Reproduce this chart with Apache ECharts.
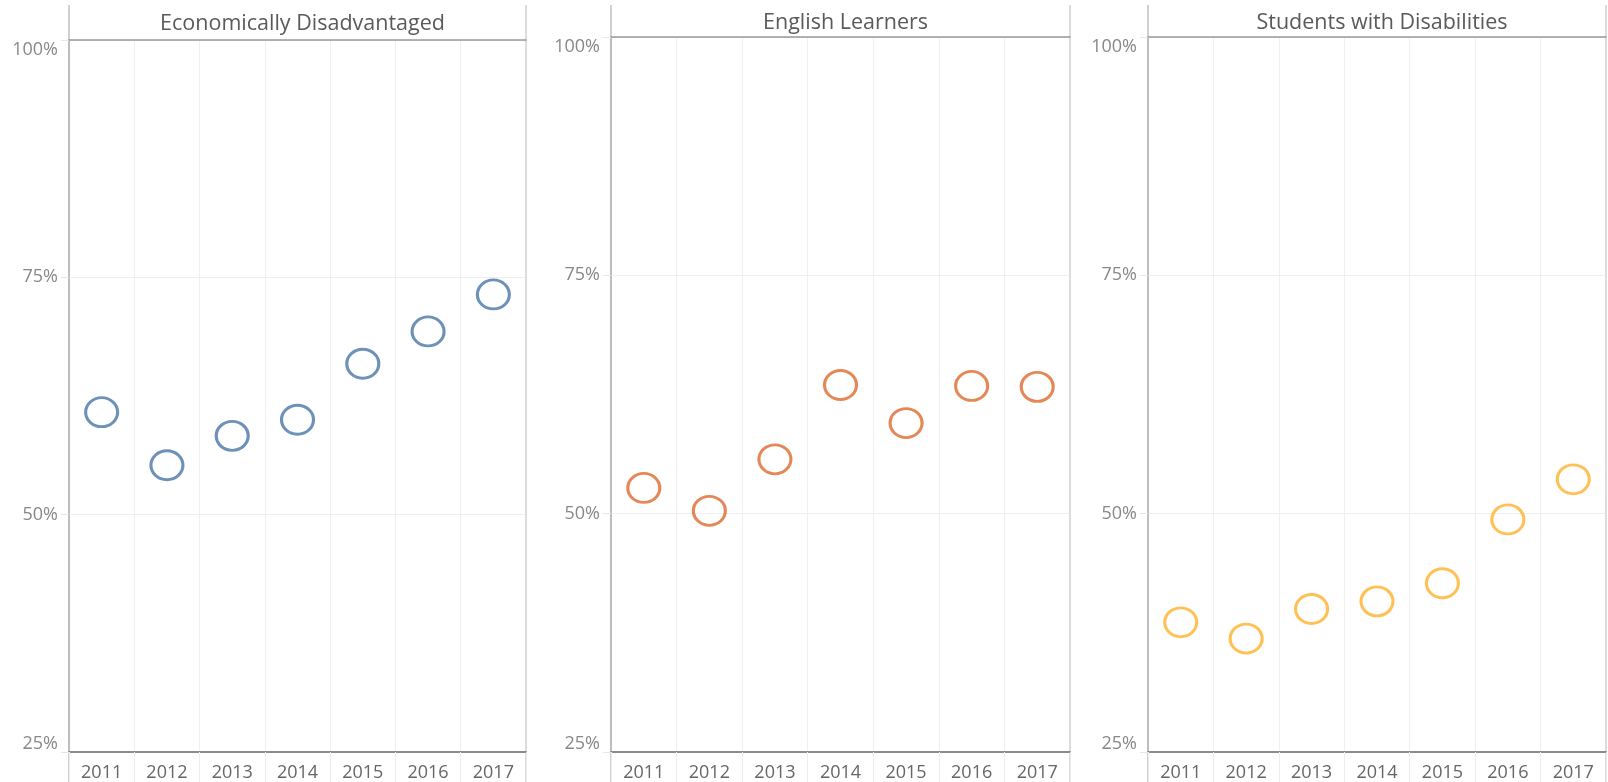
<!DOCTYPE html>
<html>
<head>
<meta charset="utf-8">
<script src="https://cdn.jsdelivr.net/npm/echarts@6/dist/echarts.min.js"></script>
<style>
html,body{margin:0;padding:0;background:#fff;}
#chart{width:1608px;height:782px;}
</style>
</head>
<body>
<div id="chart"></div>
<script>
const years = ['2011','2012','2013','2014','2015','2016','2017'];
const panelTitles = ['Economically Disadvantaged','English Learners','Students with Disabilities'];
const econDisadvantaged = [60.8, 55.2, 58.3, 60.0, 65.9, 69.3, 73.2];
const englishLearners = [52.7, 50.3, 55.7, 63.5, 59.5, 63.4, 63.3];
const studentsWithDisabilities = [38.6, 36.9, 40.0, 40.8, 42.7, 49.4, 53.6];
const yTicks = [25, 50, 75, 100];

const seriesValues = [econDisadvantaged, englishLearners, studentsWithDisabilities];
const colors = ['#4a75a8', '#df6a2e', '#ffb22c'];

// layout (pixels)
const grids = [
  {left: 69, top: 40, width: 457, height: 712},
  {left: 611, top: 37, width: 459, height: 715},
  {left: 1148, top: 37, width: 458, height: 715}
];
const headerTop = 5;
const FONT = 'Open Sans';
const TICK_FS = 18;

const option = {
  animation: false,
  backgroundColor: '#fff',
  title: grids.map((g, i) => ({
    text: panelTitles[i],
    left: g.left + g.width / 2,
    top: i === 0 ? 6 : 5,
    textAlign: 'center',
    textStyle: {fontFamily: FONT, fontSize: 21.5, fontWeight: 'normal', color: '#5a5a5a', lineHeight: 26}
  })),
  grid: grids.map(g => ({left: g.left, top: g.top, width: g.width, height: g.height, containLabel: false})),
  xAxis: [].concat(...grids.map((g, i) => [
    {
      type: 'category', gridIndex: i, data: years, position: 'bottom',
      boundaryGap: true,
      axisLine: {show: true, lineStyle: {color: '#8c8c8c', width: 2}},
      axisTick: {show: true, length: 30, lineStyle: {color: '#ececec', width: 1}},
      axisLabel: {fontFamily: FONT, fontSize: TICK_FS, color: '#666', margin: 12},
      splitLine: {show: true, lineStyle: {color: '#efefef', width: 1}}
    },
    {
      type: 'category', gridIndex: i, data: years, position: 'top',
      axisLine: {show: true, lineStyle: {color: '#999', width: 1.5}},
      axisTick: {show: false}, axisLabel: {show: false}, splitLine: {show: false}
    }
  ])),
  yAxis: [].concat(...grids.map((g, i) => [
    {
      type: 'value', gridIndex: i, min: 25, max: 100, interval: 25, position: 'left',
      axisLine: {show: true, lineStyle: {color: '#bdbdbd', width: 2}},
      axisTick: {show: true, length: 8, lineStyle: {color: '#e6e6e6'}},
      splitLine: {show: true, lineStyle: {color: '#efefef', width: 1}},
      axisLabel: {
        fontFamily: FONT, fontSize: TICK_FS, color: '#888', margin: 11,
        formatter: v => v === 100 ? '{t|' + v + '%}' : (v === 25 ? '{b|' + v + '%}' : v + '%'),
        rich: {
          t: {fontFamily: FONT, fontSize: TICK_FS, color: '#888', padding: [20, 0, 0, 0]},
          b: {fontFamily: FONT, fontSize: TICK_FS, color: '#888', padding: [0, 0, 16, 0]}
        }
      }
    },
    {
      type: 'value', gridIndex: i, min: 25, max: 100, interval: 25, position: 'right',
      axisLine: {show: true, lineStyle: {color: '#dcdcdc', width: 2}},
      axisTick: {show: false}, axisLabel: {show: false}, splitLine: {show: false}
    }
  ])),
  series: seriesValues.map((vals, i) => ({
    type: 'scatter',
    xAxisIndex: i * 2, yAxisIndex: i * 2,
    data: vals,
    symbol: 'circle',
    symbolSize: [32, 29],
    itemStyle: {color: 'rgba(255,255,255,0)', borderColor: colors[i], borderWidth: 3}
  })),
  graphic: [].concat(...grids.map(g => [
    {type: 'line', silent: true, shape: {x1: g.left, y1: headerTop, x2: g.left, y2: g.top}, style: {stroke: '#d0d0d0', lineWidth: 2}},
    {type: 'line', silent: true, shape: {x1: g.left + g.width, y1: headerTop, x2: g.left + g.width, y2: g.top}, style: {stroke: '#dcdcdc', lineWidth: 2}},
    {type: 'line', silent: true, shape: {x1: g.left, y1: g.top + g.height, x2: g.left, y2: 782}, style: {stroke: '#d0d0d0', lineWidth: 2}},
    {type: 'line', silent: true, shape: {x1: g.left + g.width, y1: g.top + g.height, x2: g.left + g.width, y2: 782}, style: {stroke: '#dcdcdc', lineWidth: 2}}
  ]))
};

const chart = echarts.init(document.getElementById('chart'), null, {renderer: 'canvas'});
chart.setOption(option);
</script>
</body>
</html>
